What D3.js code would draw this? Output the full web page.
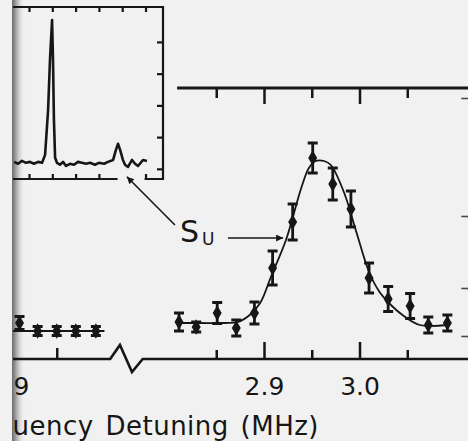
<!DOCTYPE html>
<html>
<head>
<meta charset="utf-8">
<script src="https://cdn.jsdelivr.net/npm/d3@7"></script>
<style>
body { margin: 0; background: #f1f1f1; }
svg { display: block; font-family: "DejaVu Sans", sans-serif; }
</style>
</head>
<body>
<svg id="viz" width="468" height="441"></svg>
<script>
const INK = "#161616";
const W = 468, H = 441;

// right section: detuning (MHz), signal (arb. units), error bar half-height
let freqR = [2.811, 2.829, 2.851, 2.871, 2.890, 2.909, 2.930, 2.951, 2.972, 2.991, 3.010, 3.030, 3.053, 3.072, 3.092];
let sigR  = [3.7, 3.2, 4.6, 3.1, 4.6, 9.1, 13.7, 20.1, 17.5, 15.0, 8.1, 6.0, 5.3, 3.4, 3.6];
let errR  = [0.9, 0.5, 1.05, 0.8, 1.1, 1.7, 1.8, 1.5, 1.6, 1.8, 1.5, 1.25, 1.25, 0.8, 0.8];

// left section (far detuning, before the axis break)
let freqL = [1.911, 1.930, 1.950, 1.970, 1.991];
let sigL  = [3.6, 2.8, 2.8, 2.8, 2.8];
let errL  = [0.65, 0.45, 0.45, 0.45, 0.45];

// fitted curves
let fitFreqL = [1.88, 2.0];
let fitSigL  = [2.8, 2.8];
let fitFreqR = [2.811, 2.833, 2.859, 2.873, 2.885, 2.896, 2.908, 2.923, 2.939, 2.947, 2.954, 2.963, 2.970, 2.984, 2.997, 3.010, 3.021, 3.034, 3.045, 3.063, 3.092];
let fitSigR  = [3.6, 3.6, 3.6, 3.7, 4.4, 5.6, 8.4, 11.9, 17.1, 19.1, 19.8, 19.8, 19.4, 16.6, 12.6, 8.7, 6.7, 5.3, 4.4, 3.4, 3.4];

// tick values
let majorR = [2.9, 3.0];
let minorR = [2.85, 2.95, 3.05];
let majorL = [1.9];
let minorL = [1.95];
let rightTicks = [2.3, 7.1, 14.3, 26.1];

// inset trace (arb. units)
let insetX = [-0.64, -0.47, -0.30, -0.13, 0.04, 0.21, 0.39, 0.56, 0.69, 0.82, 0.90, 0.99, 1.03, 1.07, 1.12, 1.20, 1.33, 1.46, 1.59, 1.76, 1.93, 2.10, 2.27, 2.45, 2.62, 2.83, 3.00, 3.22, 3.39, 3.61, 3.73, 3.82, 3.91, 4.03, 4.12, 4.25, 4.42, 4.55, 4.68, 4.89, 5.06];
let insetY = [0.22, 0.16, 0.25, 0.19, 0.22, 0.16, 0.22, 0.19, 0.44, 1.86, 3.43, 4.69, 3.43, 1.54, 0.35, 0.19, 0.13, 0.22, 0.09, 0.16, 0.13, 0.22, 0.19, 0.16, 0.19, 0.13, 0.19, 0.16, 0.22, 0.28, 0.60, 0.79, 0.60, 0.28, 0.13, 0.06, 0.28, 0.16, 0.09, 0.28, 0.25];
let insetTicksX = [0, 1, 2, 3, 4, 5];
let insetTicksBottom = [0, 1, 2, 3, 5];
let insetTicksY = [0, 1, 2, 3, 4];

const svg = d3.select("#viz");
svg.append("rect").attr("width", W).attr("height", H).attr("fill", "#f1f1f1");

const defs = svg.append("defs");
defs.append("clipPath").attr("id", "page")
    .append("rect").attr("x", 13).attr("y", 0).attr("width", W - 13).attr("height", H);
const grad = defs.append("linearGradient").attr("id", "fold").attr("x1", "0").attr("x2", "1");
grad.append("stop").attr("offset", "0").attr("stop-color", "#6a6a6a");
grad.append("stop").attr("offset", "0.3").attr("stop-color", "#a0a0a0");
grad.append("stop").attr("offset", "1").attr("stop-color", "#f1f1f1").attr("stop-opacity", 0);
defs.append("marker")
    .attr("id", "arrow")
    .attr("viewBox", "0 0 10 10")
    .attr("refX", 10).attr("refY", 5)
    .attr("markerWidth", 11).attr("markerHeight", 7)
    .attr("markerUnits", "userSpaceOnUse")
    .attr("orient", "auto")
    .append("path").attr("d", "M0,0L10,5L0,10z").attr("fill", INK);

// page fold shadow at the left edge, under the ink
svg.append("rect")
    .attr("x", 12).attr("y", 0).attr("width", 13).attr("height", H)
    .attr("fill", "url(#fold)");

const g = svg.append("g").attr("clip-path", "url(#page)");

// scales
const xL = d3.scaleLinear().domain([1.88, 2.006]).range([-10.1, 110.2]);
const xR = d3.scaleLinear().domain([2.773, 3.116]).range([142.7, 470.3]);
const topStart = 2.809;
const y = d3.scaleLinear().domain([0, 27.1]).range([359, 88]);

const xi = d3.scaleLinear().domain([-1, 5.75]).range([5.7, 163]);
const yi = d3.scaleLinear().domain([-0.32, 5.1]).range([179, 7]);

function styleAxis(sel, width)
{
    sel.select(".domain").remove();
    sel.selectAll(".tick line").attr("stroke", INK).attr("stroke-width", width);
    sel.selectAll(".tick text").attr("fill", INK).attr("font-size", 25)
        .attr("font-family", "DejaVu Sans, sans-serif");
}

/*************
 * MAIN AXES *
 *************/

// bottom baseline with the break mark
const yBase = y(0);
const bx0 = xL(xL.domain()[1]);
const bx1 = xR(xR.domain()[0]);
const bw = bx1 - bx0;
const baseLine = [
    [xL(xL.domain()[0]), yBase],
    [bx0, yBase],
    [bx0 + bw * 0.3, yBase - 14],
    [bx0 + bw * 0.67, yBase + 13],
    [bx1, yBase],
    [xR(xR.domain()[1]), yBase]
];
g.append("path")
    .attr("d", d3.line()(baseLine))
    .attr("fill", "none").attr("stroke", INK).attr("stroke-width", 2.6);

g.append("g").attr("transform", `translate(0,${yBase})`)
    .call(d3.axisBottom(xR).tickValues(majorR).tickSize(-17).tickPadding(18).tickFormat(d3.format(".1f")))
    .call(styleAxis, 2.5);
g.append("g").attr("transform", `translate(0,${yBase})`)
    .call(d3.axisBottom(xR).tickValues(minorR).tickSize(-9).tickFormat(""))
    .call(styleAxis, 2.5);
g.append("g").attr("transform", `translate(0,${yBase})`)
    .call(d3.axisBottom(xL).tickValues(majorL).tickSize(-17).tickPadding(18).tickFormat(d3.format(".1f")))
    .call(styleAxis, 2.5);
g.append("g").attr("transform", `translate(0,${yBase})`)
    .call(d3.axisBottom(xL).tickValues(minorL).tickSize(-11).tickFormat(""))
    .call(styleAxis, 2.5);

// top frame line
const yTop = y.range()[1];
g.append("line")
    .attr("x1", xR(topStart)).attr("x2", xR(xR.domain()[1]))
    .attr("y1", yTop).attr("y2", yTop)
    .attr("stroke", INK).attr("stroke-width", 3);
g.append("g").attr("transform", `translate(0,${yTop})`)
    .call(d3.axisTop(xR).tickValues(majorR).tickSize(-16).tickFormat(""))
    .call(styleAxis, 2.5);
g.append("g").attr("transform", `translate(0,${yTop})`)
    .call(d3.axisTop(xR).tickValues(minorR).tickSize(-10).tickFormat(""))
    .call(styleAxis, 2.5);

// right frame ticks (frame itself sits just past the edge)
g.append("g").attr("transform", `translate(${xR(xR.domain()[1])},0)`)
    .call(d3.axisRight(y).tickValues(rightTicks).tickSize(-9).tickFormat(""))
    .call(styleAxis, 1.6)
    .selectAll(".tick line").attr("stroke", "#4a4a4a");

/**************
 * FIT CURVES *
 **************/

const fitLineL = d3.line().x(d => xL(d[0])).y(d => y(d[1]));
g.append("path")
    .attr("d", fitLineL(d3.zip(fitFreqL, fitSigL)))
    .attr("fill", "none").attr("stroke", INK).attr("stroke-width", 1.8);

const fitLineR = d3.line().x(d => xR(d[0])).y(d => y(d[1])).curve(d3.curveCatmullRom);
g.append("path")
    .attr("d", fitLineR(d3.zip(fitFreqR, fitSigR)))
    .attr("fill", "none").attr("stroke", INK).attr("stroke-width", 1.8);

/***************
 * DATA POINTS *
 ***************/

function drawPoints(xs, f, s, e)
{
    let data = d3.zip(f, s, e);
    let pts = g.append("g").selectAll("g").data(data).enter().append("g");
    pts.append("line")
        .attr("x1", d => xs(d[0])).attr("x2", d => xs(d[0]))
        .attr("y1", d => y(d[1] - d[2])).attr("y2", d => y(d[1] + d[2]))
        .attr("stroke", INK).attr("stroke-width", 2.8);
    [-1, 1].forEach(sign => {
        pts.append("line")
            .attr("x1", d => xs(d[0]) - 5).attr("x2", d => xs(d[0]) + 5)
            .attr("y1", d => y(d[1] + sign * d[2])).attr("y2", d => y(d[1] + sign * d[2]))
            .attr("stroke", INK).attr("stroke-width", 3);
    });
    pts.append("path")
        .attr("transform", d => `translate(${xs(d[0])},${y(d[1])})`)
        .attr("d", d3.symbol(d3.symbolDiamond, 70)())
        .attr("fill", INK);
}

drawPoints(xL, freqL, sigL, errL);
drawPoints(xR, freqR, sigR, errR);

/*********
 * INSET *
 *********/

const inset = g.append("g");
const ix0 = xi(xi.domain()[0]), ix1 = xi(xi.domain()[1]);
const iy0 = yi(yi.domain()[0]), iy1 = yi(yi.domain()[1]);
const gapA = xi(3.8), gapB = xi(4.96);

inset.append("path")
    .attr("d", d3.line()([[ix0, iy1], [ix1, iy1], [ix1, iy0], [gapB, iy0]]))
    .attr("fill", "none").attr("stroke", INK).attr("stroke-width", 2.2);
inset.append("path")
    .attr("d", d3.line()([[ix0, iy0], [gapA, iy0]]))
    .attr("fill", "none").attr("stroke", INK).attr("stroke-width", 2.2);

inset.append("g").attr("transform", `translate(0,${iy1})`)
    .call(d3.axisTop(xi).tickValues(insetTicksX).tickSize(-5).tickFormat(""))
    .call(styleAxis, 2.2);
inset.append("g").attr("transform", `translate(0,${iy0})`)
    .call(d3.axisBottom(xi).tickValues(insetTicksBottom).tickSize(-5).tickFormat(""))
    .call(styleAxis, 2.2);
inset.append("g").attr("transform", `translate(${ix1},0)`)
    .call(d3.axisRight(yi).tickValues(insetTicksY).tickSize(-6).tickFormat(""))
    .call(styleAxis, 2.2);

const insetLine = d3.line().x(d => xi(d[0])).y(d => yi(d[1]));
inset.append("path")
    .attr("d", insetLine(d3.zip(insetX, insetY)))
    .attr("fill", "none").attr("stroke", INK).attr("stroke-width", 2.6)
    .attr("stroke-linejoin", "round");

/***************
 * ANNOTATIONS *
 ***************/

// label S_U, anchored in main-plot data units
const labX = xR(2.812), labY = y(11.7);
const lab = g.append("text").attr("x", labX).attr("y", labY).attr("fill", INK);
lab.append("tspan").attr("font-size", 30).text("S");
lab.append("tspan").attr("font-size", 17).attr("dx", 3).attr("dy", 3).text("U");

// arrow to the small peak of the inset
g.append("line")
    .attr("x1", labX - 5).attr("y1", labY - 17)
    .attr("x2", xi(4.2)).attr("y2", yi(-0.25))
    .attr("stroke", INK).attr("stroke-width", 1.6)
    .attr("marker-end", "url(#arrow)");

// arrow to the fitted curve
g.append("line")
    .attr("x1", labX + 48).attr("y1", labY - 4)
    .attr("x2", xR(2.920)).attr("y2", labY - 4)
    .attr("stroke", INK).attr("stroke-width", 1.6)
    .attr("marker-end", "url(#arrow)");

// axis title (left part runs off the page)
g.append("text")
    .attr("x", 319).attr("y", 435)
    .attr("text-anchor", "end")
    .attr("font-size", 26)
    .attr("letter-spacing", 0.5)
    .attr("word-spacing", 3)
    .attr("fill", INK)
    .text("Frequency Detuning (MHz)");
</script>
</body>
</html>
